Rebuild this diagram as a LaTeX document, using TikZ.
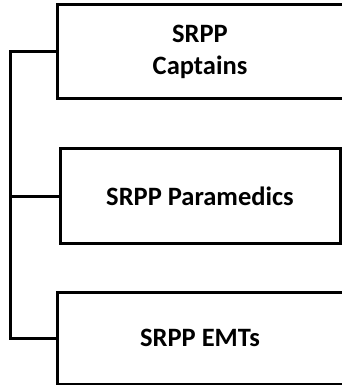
\documentclass[tikz,border=0pt]{standalone}
\usepackage{fontspec}
\setmainfont{Carlito}
\usetikzlibrary{positioning}

\begin{document}
\begin{tikzpicture}[x=1pt, y=-1pt]
			\tikzstyle{rank}=[rectangle, draw, line width=3pt, fill=white, font=\bfseries\fontsize{26.5}{32}\selectfont, align=center, inner sep=0pt]
			\tikzstyle{link}=[-, line width=3pt, line join=miter]

			\useasboundingbox (0,0) rectangle (341,385);

			\node [rank, minimum width=286pt, minimum height=94pt] (captains) at (200,52) {SRPP\\Captains};
			\node [rank, minimum width=280pt, minimum height=95pt] (paramedics) at (200,196) {SRPP Paramedics};
			\node [rank, minimum width=286pt, minimum height=92pt] (emts) at (200,338) {SRPP EMTs};

			\coordinate (trunkTop) at (10,52);
			\coordinate (trunkBottom) at (10,338);

			\draw [link] (captains.west) -- (trunkTop) -- (trunkBottom) -- (emts.west);
			\draw [link] (paramedics.west) -- (paramedics.west -| trunkTop);
		\end{tikzpicture}
\end{document}
